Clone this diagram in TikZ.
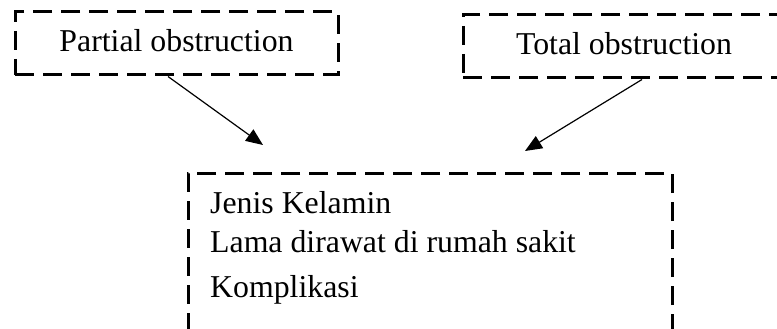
\documentclass[tikz,border=0pt]{standalone}
\usepackage{fontspec}
\setmainfont{Liberation Serif}
\usetikzlibrary{arrows.meta}
\begin{document}
\begin{tikzpicture}[x=1pt,y=-1pt,
  dbox/.style={draw, line width=3pt, dash pattern=on 19pt off 9pt, rectangle, inner sep=0pt},
  lbl/.style={font=\fontsize{31.8}{40}\selectfont, inner sep=0pt},
  conn/.style={line width=1.2pt, -{Triangle[length=17pt,width=14pt]}}]
\useasboundingbox (0,0) rectangle (777,329);
\clip (0,0) rectangle (777,329);
\node[dbox, minimum width=323pt, minimum height=63pt] (p) at (176.5,43.5) {};
\node[lbl, anchor=base] (pt) at (176.5,52) {Partial obstruction};
\node[dbox, minimum width=327pt, minimum height=63pt] (t) at (626.5,46.5) {};
\node[lbl, anchor=base] (tt) at (624,55) {Total obstruction};
\node[dbox, minimum width=484pt, minimum height=180pt] (v) at (430,263) {};
\node[lbl, anchor=base west] (v1) at (210,213) {Jenis Kelamin};
\node[lbl, anchor=base west] (v2) at (210,252) {Lama dirawat di rumah sakit};
\node[lbl, anchor=base west] (v3) at (210,297) {Komplikasi};
\coordinate (e1) at (263,145);
\coordinate (e2) at (525,151);
\draw[conn] ([xshift=-8.5pt]p.south) -- (e1);
\draw[conn] ([xshift=15.5pt]t.south) -- (e2);
\end{tikzpicture}
\end{document}
